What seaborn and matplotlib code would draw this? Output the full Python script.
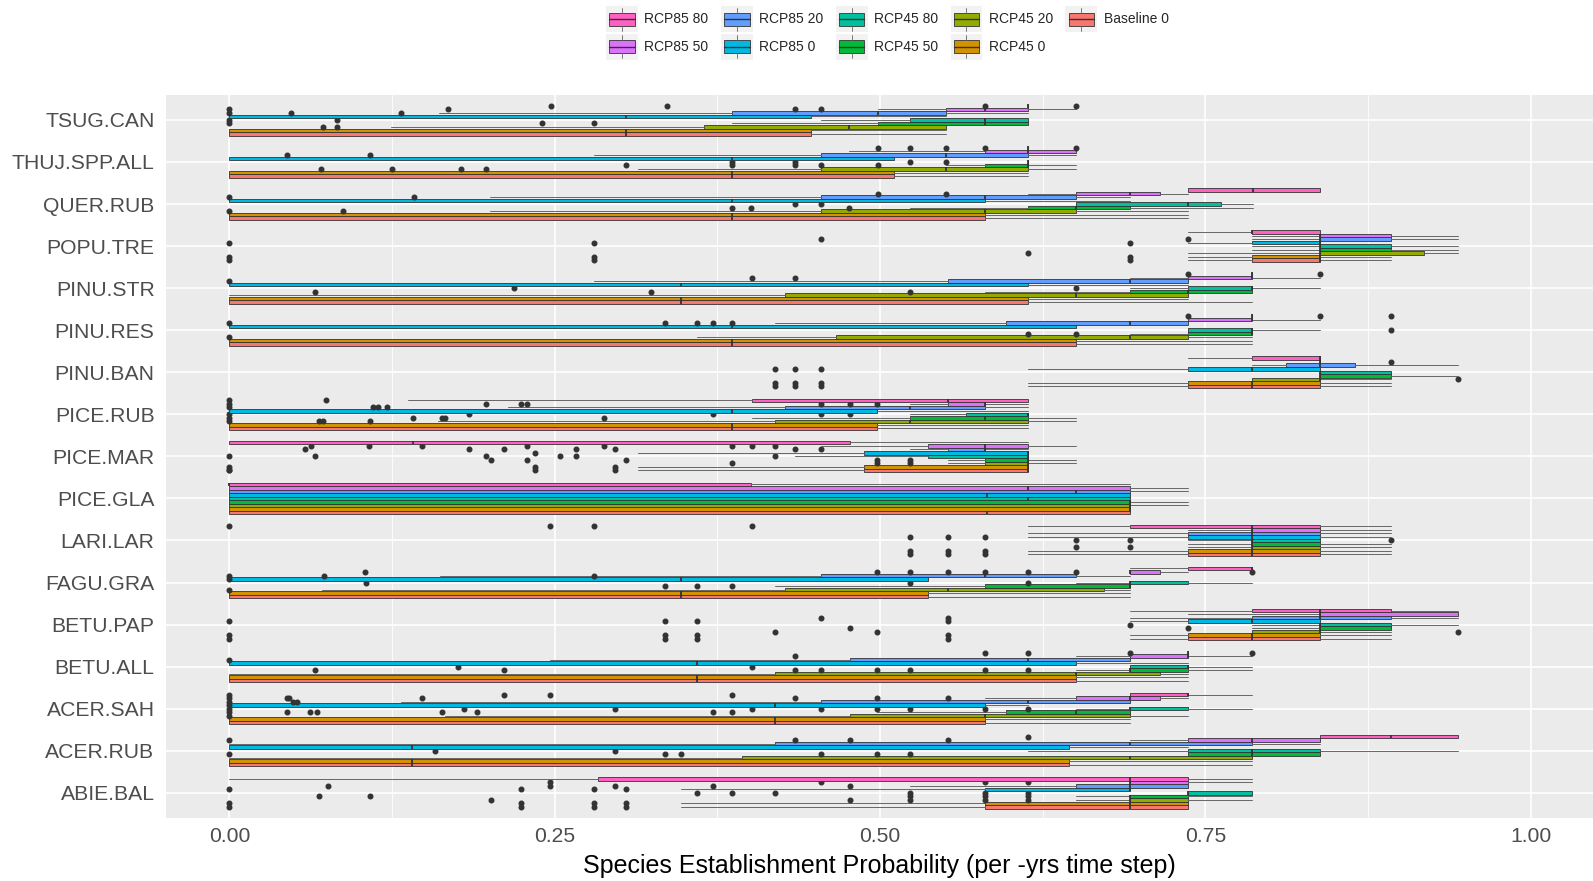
import numpy as np
import matplotlib
matplotlib.use("Agg")
import matplotlib.pyplot as plt
import seaborn as sns
from matplotlib.patches import Rectangle
from matplotlib.lines import Line2D
from matplotlib.legend_handler import HandlerBase

# ---------------- data ----------------
SPECIES = ['ABIE.BAL', 'ACER.RUB', 'ACER.SAH', 'BETU.ALL', 'BETU.PAP', 'FAGU.GRA',
           'LARI.LAR', 'PICE.GLA', 'PICE.MAR', 'PICE.RUB', 'PINU.BAN', 'PINU.RES',
           'PINU.STR', 'POPU.TRE', 'QUER.RUB', 'THUJ.SPP.ALL', 'TSUG.CAN']
GROUPS = ['Baseline 0', 'RCP45 0', 'RCP45 20', 'RCP45 50', 'RCP45 80',
          'RCP85 0', 'RCP85 20', 'RCP85 50', 'RCP85 80']
COLORS = ['#F8766D', '#D39200', '#93AA00', '#00BA38', '#00C19F',
          '#00B9E3', '#619CFF', '#DB72FB', '#FF61C3']

# (whisker low, q1, median, q3, whisker high) per group, in GROUPS order
ABIE_BAL = [(0.347, 0.581, 0.692, 0.737, 0.737), (0.347, 0.581, 0.692, 0.737, 0.737),
            (0.651, 0.692, 0.692, 0.737, 0.786), (0.651, 0.692, 0.692, 0.737, 0.786),
            (0.737, 0.737, 0.737, 0.786, 0.786), (0.347, 0.581, 0.692, 0.692, 0.692),
            (0.523, 0.651, 0.692, 0.737, 0.737), (0.692, 0.692, 0.692, 0.737, 0.786),
            (0.000, 0.283, 0.692, 0.737, 0.786)]
ABIE_BAL_OUT = [[0, 0.224, 0.28, 0.305], [0, 0.224, 0.28, 0.305], [0.201, 0.477, 0.523, 0.581, 0.614],
                [0.069, 0.108, 0.523, 0.581, 0.614], [0.359, 0.386, 0.419, 0.523, 0.581, 0.614],
                [0, 0.224, 0.28, 0.305], [0.076, 0.246, 0.296, 0.372, 0.477],
                [0.246, 0.455, 0.581, 0.614], []]

ACER_RUB = [(0, 0, 0.14, 0.645, 0.786), (0, 0, 0.14, 0.645, 0.786),
            (0, 0.394, 0.692, 0.786, 0.786), (0.737, 0.737, 0.786, 0.838, 0.838),
            (0.614, 0.737, 0.786, 0.838, 0.944), (0, 0, 0.14, 0.645, 0.737),
            (0, 0.419, 0.692, 0.786, 0.838), (0.692, 0.737, 0.786, 0.838, 0.838),
            (0.838, 0.838, 0.893, 0.944, 0.944)]
ACER_RUB_OUT = [[], [], [], [0, 0.335, 0.347, 0.455, 0.498, 0.523], [0.158, 0.296],
                [], [], [0, 0.435, 0.477, 0.552], [0.614]]

ACER_SAH = [(0, 0, 0.419, 0.581, 0.692), (0, 0, 0.419, 0.581, 0.692),
            (0.166, 0.477, 0.581, 0.692, 0.737), (0.498, 0.597, 0.651, 0.692, 0.692),
            (0.651, 0.692, 0.692, 0.737, 0.786), (0, 0, 0.419, 0.581, 0.614),
            (0.132, 0.455, 0.614, 0.692, 0.692), (0.581, 0.651, 0.692, 0.715, 0.737),
            (0.692, 0.692, 0.737, 0.737, 0.786)]
ACER_SAH_OUT = [[], [], [0], [0, 0.044, 0.062, 0.067, 0.163, 0.19, 0.372, 0.386],
                [0, 0.18, 0.296, 0.402, 0.455, 0.498, 0.523, 0.581, 0.614],
                [0], [0, 0.049, 0.052], [0, 0.044, 0.046, 0.148, 0.435, 0.498, 0.552],
                [0, 0.211, 0.246, 0.386]]

BETU_ALL = [(0, 0, 0.359, 0.651, 0.737), (0, 0, 0.359, 0.651, 0.737),
            (0, 0.419, 0.651, 0.715, 0.737), (0.651, 0.692, 0.692, 0.737, 0.786),
            (0.692, 0.692, 0.737, 0.737, 0.786), (0, 0, 0.359, 0.651, 0.737),
            (0.246, 0.477, 0.614, 0.692, 0.692), (0.651, 0.692, 0.737, 0.737, 0.786),
            (0.737, 0.737, 0.737, 0.737, 0.737)]
BETU_ALL_OUT = [[], [], [], [0.066, 0.211, 0.435, 0.455, 0.498, 0.523, 0.581, 0.614],
                [0.176, 0.402], [], [0], [0.435], [0.581, 0.614, 0.692, 0.786]]

BETU_PAP = [(0.692, 0.737, 0.786, 0.838, 0.893), (0.692, 0.737, 0.786, 0.838, 0.893),
            (0.786, 0.786, 0.838, 0.838, 0.893), (0.786, 0.838, 0.838, 0.893, 0.893),
            (0.786, 0.838, 0.838, 0.893, 0.944), (0.692, 0.737, 0.786, 0.838, 0.838),
            (0.692, 0.786, 0.838, 0.893, 0.944), (0.737, 0.838, 0.838, 0.944, 0.944),
            (0.692, 0.786, 0.838, 0.893, 0.944)]
BETU_PAP_OUT = [[0, 0.335, 0.359, 0.552], [0, 0.335, 0.359, 0.552], [0.419, 0.498, 0.944],
                [0.477, 0.737], [0.692], [0, 0.335, 0.359, 0.552], [0.455, 0.552], [], []]

FAGU_GRA = [(0, 0, 0.347, 0.537, 0.692), (0, 0, 0.347, 0.537, 0.692),
            (0.071, 0.427, 0.552, 0.672, 0.692), (0.419, 0.581, 0.692, 0.692, 0.692),
            (0.651, 0.692, 0.692, 0.737, 0.786), (0, 0, 0.347, 0.537, 0.537),
            (0.162, 0.455, 0.581, 0.651, 0.692), (0.692, 0.692, 0.692, 0.715, 0.737),
            (0.692, 0.737, 0.786, 0.786, 0.786)]
FAGU_GRA_OUT = [[], [], [0], [0.335, 0.359, 0.386], [0.105, 0.523, 0.614], [0],
                [0, 0.073, 0.28], [0.104, 0.498, 0.523, 0.552, 0.581, 0.614, 0.651, 0.786], []]

LARI_LAR = [(0.614, 0.737, 0.786, 0.838, 0.893), (0.614, 0.737, 0.786, 0.838, 0.893),
            (0.737, 0.786, 0.786, 0.838, 0.893), (0.737, 0.786, 0.786, 0.838, 0.893),
            (0.737, 0.786, 0.786, 0.838, 0.838), (0.614, 0.737, 0.786, 0.838, 0.893),
            (0.614, 0.737, 0.786, 0.838, 0.893), (0.737, 0.786, 0.786, 0.838, 0.893),
            (0.614, 0.692, 0.786, 0.838, 0.893)]
LARI_LAR_OUT = [[0.523, 0.552, 0.581], [0.523, 0.552, 0.581], [0.651, 0.692], [],
                [0.651, 0.692, 0.893], [0.523, 0.552, 0.581], [], [], [0, 0.246, 0.28, 0.402]]

PICE_GLA = [(0, 0, 0.582, 0.692, 0.692), (0, 0, 0.692, 0.692, 0.692),
            (0, 0, 0.692, 0.692, 0.737), (0, 0, 0.692, 0.692, 0.737),
            (0, 0, 0.614, 0.692, 0.692), (0, 0, 0.582, 0.692, 0.692),
            (0, 0, 0.651, 0.692, 0.737), (0, 0, 0.614, 0.692, 0.737),
            (0, 0, 0.0, 0.401, 0.692)]
PICE_GLA_OUT = [[], [], [], [], [], [], [], [], []]

PICE_MAR = [(0.314, 0.488, 0.614, 0.614, 0.614), (0.314, 0.488, 0.614, 0.614, 0.614),
            (0.552, 0.581, 0.614, 0.614, 0.651), (0.552, 0.581, 0.614, 0.614, 0.651),
            (0.435, 0.537, 0.614, 0.614, 0.614), (0.314, 0.488, 0.614, 0.614, 0.614),
            (0.523, 0.552, 0.581, 0.581, 0.614), (0.455, 0.537, 0.581, 0.614, 0.651),
            (0, 0, 0.141, 0.477, 0.614)]
PICE_MAR_OUT = [[0, 0, 0.235, 0.296], [0, 0.235, 0.296], [0.386, 0.498, 0.523],
                [0.201, 0.229, 0.305, 0.498, 0.523], [0, 0.066, 0.197, 0.254, 0.266, 0.419],
                [0.235], [0.058, 0.184, 0.211, 0.266, 0.296, 0.435, 0.455],
                [0.063, 0.107, 0.148, 0.229, 0.288, 0.386, 0.402, 0.419], []]

PICE_RUB = [(0, 0, 0.386, 0.498, 0.614), (0, 0, 0.386, 0.498, 0.614),
            (0.160, 0.419, 0.523, 0.614, 0.651), (0.402, 0.523, 0.581, 0.614, 0.651),
            (0.523, 0.566, 0.614, 0.614, 0.614), (0, 0, 0.386, 0.498, 0.614),
            (0.214, 0.427, 0.523, 0.581, 0.614), (0.523, 0.552, 0.581, 0.581, 0.614),
            (0.137, 0.402, 0.552, 0.614, 0.614)]
PICE_RUB_OUT = [[], [], [0, 0.069, 0.072, 0.108], [0, 0.141, 0.163, 0.166, 0.288],
                [0, 0.184, 0.372, 0.455, 0.477], [], [0, 0.11, 0.114, 0.121],
                [0, 0.197, 0.224, 0.229, 0.455, 0.477, 0.498], [0, 0.074]]

PINU_BAN = [(0.614, 0.737, 0.786, 0.838, 0.893), (0.614, 0.737, 0.786, 0.838, 0.893),
            (0.786, 0.786, 0.838, 0.838, 0.893), (0.838, 0.838, 0.838, 0.893, 0.944),
            (0.838, 0.838, 0.838, 0.893, 0.893), (0.614, 0.737, 0.786, 0.838, 0.838),
            (0.786, 0.812, 0.838, 0.865, 0.944), (0.838, 0.838, 0.838, 0.838, 0.838),
            (0.737, 0.786, 0.838, 0.838, 0.838)]
PINU_BAN_OUT = [[0.419, 0.435, 0.455], [0.419, 0.435, 0.455], [0.944], [], [],
                [0.419, 0.435, 0.455], [], [0.893], []]

PINU_RES = [(0, 0, 0.386, 0.651, 0.786), (0, 0, 0.386, 0.651, 0.786),
            (0.359, 0.466, 0.692, 0.737, 0.786), (0.692, 0.737, 0.786, 0.786, 0.786),
            (0.737, 0.737, 0.786, 0.786, 0.838), (0, 0, 0.386, 0.651, 0.651),
            (0.419, 0.597, 0.692, 0.737, 0.737), (0.737, 0.737, 0.786, 0.786, 0.838),
            (0.786, 0.786, 0.786, 0.786, 0.786)]
PINU_RES_OUT = [[], [], [0], [0.614, 0.651], [0.893], [], [0, 0.335, 0.359, 0.372, 0.386],
                [], [0.737, 0.838, 0.893]]

PINU_STR = [(0, 0, 0.347, 0.614, 0.786), (0, 0, 0.347, 0.614, 0.737),
            (0, 0.427, 0.651, 0.737, 0.737), (0.581, 0.692, 0.737, 0.786, 0.786),
            (0.692, 0.737, 0.786, 0.786, 0.838), (0, 0, 0.347, 0.614, 0.737),
            (0.28, 0.552, 0.692, 0.737, 0.737), (0.692, 0.737, 0.786, 0.786, 0.838),
            (0.786, 0.786, 0.786, 0.786, 0.786)]
PINU_STR_OUT = [[], [], [], [0.066, 0.324, 0.523], [0.219, 0.651], [], [0],
                [0.402, 0.435], [0.737, 0.838]]

POPU_TRE = [(0.737, 0.786, 0.838, 0.838, 0.893), (0.737, 0.786, 0.838, 0.838, 0.893),
            (0.737, 0.838, 0.838, 0.918, 0.944), (0.786, 0.838, 0.838, 0.893, 0.944),
            (0.786, 0.838, 0.838, 0.893, 0.944), (0.737, 0.786, 0.838, 0.838, 0.838),
            (0.786, 0.838, 0.838, 0.893, 0.944), (0.786, 0.838, 0.838, 0.893, 0.944),
            (0.737, 0.786, 0.786, 0.838, 0.838)]
POPU_TRE_OUT = [[0, 0.28, 0.692], [0, 0.28, 0.692], [0.614], [], [], [0, 0.28, 0.692],
                [0.455, 0.737], [], []]

QUER_RUB = [(0, 0, 0.386, 0.581, 0.737), (0, 0, 0.386, 0.581, 0.737),
            (0.2, 0.455, 0.581, 0.651, 0.737), (0.523, 0.614, 0.651, 0.692, 0.787),
            (0.651, 0.651, 0.737, 0.762, 0.787), (0, 0, 0.386, 0.581, 0.692),
            (0.2, 0.455, 0.581, 0.651, 0.692), (0.614, 0.651, 0.692, 0.715, 0.737),
            (0.737, 0.737, 0.787, 0.838, 0.838)]
QUER_RUB_OUT = [[], [], [0, 0.087], [0.386, 0.401, 0.476], [0.435, 0.455], [],
                [0, 0.142], [0.4985, 0.551], []]

THUJ_SPP_ALL = [(0, 0, 0.386, 0.511, 0.614), (0, 0, 0.386, 0.511, 0.614),
                (0.314, 0.455, 0.551, 0.614, 0.651), (0.551, 0.581, 0.614, 0.614, 0.651),
                (0.614, 0.614, 0.614, 0.614, 0.614), (0, 0, 0.386, 0.511, 0.511),
                (0.28, 0.455, 0.551, 0.614, 0.651), (0.476, 0.581, 0.614, 0.651, 0.651),
                (0.614, 0.614, 0.614, 0.614, 0.614)]
THUJ_SPP_ALL_OUT = [[], [], [0.07, 0.125, 0.178, 0.197], [0.305, 0.386, 0.435, 0.455, 0.4985],
                    [0.386, 0.435, 0.523, 0.551], [], [0.044, 0.108], [],
                    [0.4985, 0.523, 0.551, 0.581, 0.651]]

TSUG_CAN = [(0, 0, 0.305, 0.447, 0.551), (0, 0, 0.305, 0.447, 0.551),
            (0.124, 0.365, 0.476, 0.551, 0.551), (0.386, 0.4985, 0.581, 0.614, 0.614),
            (0.455, 0.523, 0.581, 0.614, 0.614), (0, 0, 0.305, 0.447, 0.551),
            (0.161, 0.386, 0.4985, 0.551, 0.614), (0.4985, 0.551, 0.581, 0.614, 0.651),
            (0.614, 0.614, 0.614, 0.614, 0.614)]
TSUG_CAN_OUT = [[], [], [0.072, 0.083], [0, 0.24, 0.28], [0, 0.083], [],
                [0, 0.047, 0.132], [0, 0.168, 0.435, 0.455], [0.247, 0.336, 0.581, 0.651]]

X_TICKS = [0.0, 0.25, 0.5, 0.75, 1.0]
X_TICK_LABELS = ['0.00', '0.25', '0.50', '0.75', '1.00']
X_LABEL = 'Species Establishment Probability (per -yrs time step)'

STATS = [ABIE_BAL, ACER_RUB, ACER_SAH, BETU_ALL, BETU_PAP, FAGU_GRA, LARI_LAR, PICE_GLA,
         PICE_MAR, PICE_RUB, PINU_BAN, PINU_RES, PINU_STR, POPU_TRE, QUER_RUB,
         THUJ_SPP_ALL, TSUG_CAN]
OUTS = [ABIE_BAL_OUT, ACER_RUB_OUT, ACER_SAH_OUT, BETU_ALL_OUT, BETU_PAP_OUT, FAGU_GRA_OUT,
        LARI_LAR_OUT, PICE_GLA_OUT, PICE_MAR_OUT, PICE_RUB_OUT, PINU_BAN_OUT, PINU_RES_OUT,
        PINU_STR_OUT, POPU_TRE_OUT, QUER_RUB_OUT, THUJ_SPP_ALL_OUT, TSUG_CAN_OUT]

# ---------------- style ----------------
sns.set_theme(style='darkgrid', rc={'axes.facecolor': '#EBEBEB', 'grid.color': 'white'})
plt.rcParams['font.family'] = ['Liberation Sans', 'DejaVu Sans']

fig = plt.figure(figsize=(15.93, 8.81), dpi=100)
ax = fig.add_axes([0.104, 0.0715, 0.896, 0.821])

n_g = len(GROUPS)
dodge = 0.75
bw = dodge / n_g
EDGE = '#333333'

for gi, (gname, col) in enumerate(zip(GROUPS, COLORS)):
    bstats = []
    pos = []
    for si in range(len(SPECIES)):
        lo, q1, med, q3, hi = STATS[si][gi]
        bstats.append(dict(whislo=lo, q1=q1, med=med, q3=q3, whishi=hi,
                           fliers=np.array(OUTS[si][gi], dtype=float)))
        pos.append(si + (gi - (n_g - 1) / 2) * bw)
    kw = dict(positions=pos, widths=bw, patch_artist=True, showcaps=False,
              manage_ticks=False, zorder=3,
              boxprops=dict(facecolor=col, edgecolor=EDGE, linewidth=0.6),
              medianprops=dict(color=EDGE, linewidth=1.3),
              whiskerprops=dict(color='#666666', linewidth=0.7),
              flierprops=dict(marker='o', markersize=3.3, markerfacecolor=EDGE,
                              markeredgecolor=EDGE, linestyle='none'))
    try:
        ax.bxp(bstats, orientation='horizontal', **kw)
    except TypeError:
        ax.bxp(bstats, vert=False, **kw)

ax.set_xlim(-0.049, 1.048)
ax.set_ylim(-0.6, len(SPECIES) - 0.4)
ax.set_xticks(X_TICKS)
ax.set_xticklabels(X_TICK_LABELS)
ax.set_xticks([0.125, 0.375, 0.625, 0.875], minor=True)
ax.set_yticks(range(len(SPECIES)))
ax.set_yticklabels(SPECIES)
ax.grid(True, which='major', color='white', linewidth=1.2)
ax.grid(True, which='minor', axis='x', color='white', linewidth=0.6)
ax.set_axisbelow(True)
for s in ax.spines.values():
    s.set_visible(False)
ax.tick_params(axis='both', which='major', length=3.5, width=1.0, color='#333333',
               labelsize=15.2, labelcolor='#4D4D4D')
ax.tick_params(axis='y', which='major', pad=4.5)
ax.tick_params(axis='x', which='major', pad=3)
ax.tick_params(axis='both', which='minor', length=0)
ax.set_xlabel(X_LABEL, fontsize=18, color='black', labelpad=5.5)
ax.set_ylabel('')


class BoxKey(HandlerBase):
    def create_artists(self, legend, orig_handle, xdescent, ydescent, width, height,
                       fontsize, trans):
        x0, y0 = -xdescent, -ydescent
        col = orig_handle.get_facecolor()
        bg = Rectangle((x0, y0), width, height, facecolor='#F2F2F2', edgecolor='none',
                       transform=trans)
        bx = Rectangle((x0 + width * 0.1, y0 + height * 0.25), width * 0.8, height * 0.5,
                       facecolor=col, edgecolor=EDGE, linewidth=0.6, transform=trans)
        md = Line2D([x0 + width * 0.1, x0 + width * 0.9], [y0 + height / 2] * 2,
                    color=EDGE, linewidth=1.0, transform=trans)
        w1 = Line2D([x0 + width / 2] * 2, [y0 + height * 0.05, y0 + height * 0.25],
                    color='#666666', linewidth=0.6, transform=trans)
        w2 = Line2D([x0 + width / 2] * 2, [y0 + height * 0.75, y0 + height * 0.95],
                    color='#666666', linewidth=0.6, transform=trans)
        return [bg, bx, md, w1, w2]


leg_order = list(range(n_g))[::-1]
handles = [Rectangle((0, 0), 1, 1, facecolor=COLORS[i]) for i in leg_order]
labels = [GROUPS[i] for i in leg_order]
fig.legend(handles, labels, handler_map={Rectangle: BoxKey()}, loc='upper center',
           bbox_to_anchor=(0.557, 1.0), ncol=5, frameon=False, fontsize=10,
           handlelength=2.3, handleheight=2.5, handletextpad=0.45, columnspacing=0.9,
           labelspacing=0.1, borderpad=0.1, borderaxespad=0.35)

fig.savefig('out.png', dpi=100, facecolor='white')
